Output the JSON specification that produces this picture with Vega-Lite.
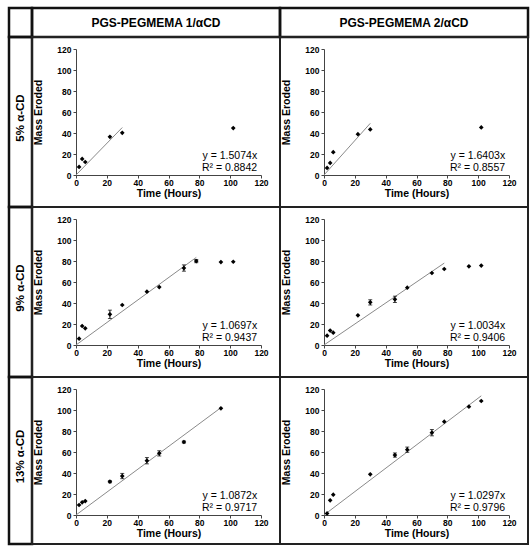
{
  "$schema": "https://vega.github.io/schema/vega-lite/v6.json",
  "padding": {"left": 7, "top": 6, "right": 0, "bottom": 0},
  "background": "white",
  "config": {
    "font": "Liberation Sans",
    "view": {"stroke": "#222", "strokeWidth": 2},
    "axis": {
      "grid": false,
      "labelFontSize": 8.5,
      "labelFontWeight": "bold",
      "labelColor": "black",
      "labelFlush": false,
      "labelOverlap": false,
      "titleFontSize": 10.5,
      "titleFontWeight": "bold",
      "titleColor": "black",
      "domainColor": "#444",
      "tickColor": "#444",
      "tickSize": 3,
      "values": [0, 20, 40, 60, 80, 100, 120]
    },
    "axisX": {"labelPadding": 0, "titlePadding": 2},
    "axisY": {"labelPadding": 2, "titlePadding": 13, "offset": -44},
    "text": {"color": "black"}
  },
  "datasets": {
    "headers": [
      {"id": "corner", "label": ""},
      {"id": "c1", "label": "PGS-PEGMEMA 1/αCD"},
      {"id": "c2", "label": "PGS-PEGMEMA 2/αCD"},
      {"id": "r5", "label": "5% α-CD"},
      {"id": "r9", "label": "9% α-CD"},
      {"id": "r13", "label": "13% α-CD"}
    ],
    "points": [
      {"panel": "5-1", "t": 2, "m": 7.7, "err": 0},
      {"panel": "5-1", "t": 4, "m": 15.3, "err": 0},
      {"panel": "5-1", "t": 6, "m": 12.4, "err": 0},
      {"panel": "5-1", "t": 22, "m": 36.4, "err": 0},
      {"panel": "5-1", "t": 30, "m": 40.2, "err": 0},
      {"panel": "5-1", "t": 102, "m": 44.7, "err": 0},
      {"panel": "5-2", "t": 2, "m": 6.7, "err": 0},
      {"panel": "5-2", "t": 4, "m": 11.5, "err": 0},
      {"panel": "5-2", "t": 6, "m": 21.7, "err": 0},
      {"panel": "5-2", "t": 22, "m": 38.9, "err": 0},
      {"panel": "5-2", "t": 30, "m": 43.4, "err": 0},
      {"panel": "5-2", "t": 102, "m": 45.3, "err": 0},
      {"panel": "9-1", "t": 2, "m": 6.0, "err": 0},
      {"panel": "9-1", "t": 4, "m": 18.1, "err": 0},
      {"panel": "9-1", "t": 6, "m": 15.9, "err": 0},
      {"panel": "9-1", "t": 22, "m": 29.2, "err": 4},
      {"panel": "9-1", "t": 30, "m": 38.1, "err": 0},
      {"panel": "9-1", "t": 46, "m": 50.8, "err": 0},
      {"panel": "9-1", "t": 54, "m": 55.2, "err": 0},
      {"panel": "9-1", "t": 70, "m": 73.3, "err": 3},
      {"panel": "9-1", "t": 78, "m": 79.9, "err": 1.5},
      {"panel": "9-1", "t": 94, "m": 79.0, "err": 0},
      {"panel": "9-1", "t": 102, "m": 79.3, "err": 0},
      {"panel": "9-2", "t": 2, "m": 8.9, "err": 0},
      {"panel": "9-2", "t": 4, "m": 13.7, "err": 0},
      {"panel": "9-2", "t": 6, "m": 11.7, "err": 0},
      {"panel": "9-2", "t": 22, "m": 28.3, "err": 0},
      {"panel": "9-2", "t": 30, "m": 40.6, "err": 2.5},
      {"panel": "9-2", "t": 46, "m": 43.5, "err": 3},
      {"panel": "9-2", "t": 54, "m": 54.6, "err": 0},
      {"panel": "9-2", "t": 70, "m": 68.6, "err": 0},
      {"panel": "9-2", "t": 78, "m": 72.4, "err": 0},
      {"panel": "9-2", "t": 94, "m": 74.9, "err": 0},
      {"panel": "9-2", "t": 102, "m": 75.6, "err": 0},
      {"panel": "13-1", "t": 2, "m": 9.5, "err": 0},
      {"panel": "13-1", "t": 4, "m": 12.1, "err": 0},
      {"panel": "13-1", "t": 6, "m": 13.3, "err": 0},
      {"panel": "13-1", "t": 22, "m": 31.7, "err": 1},
      {"panel": "13-1", "t": 30, "m": 37.1, "err": 2.5},
      {"panel": "13-1", "t": 46, "m": 51.7, "err": 3},
      {"panel": "13-1", "t": 54, "m": 58.7, "err": 2.5},
      {"panel": "13-1", "t": 70, "m": 69.5, "err": 1},
      {"panel": "13-1", "t": 94, "m": 101.6, "err": 0},
      {"panel": "13-2", "t": 2, "m": 1.5, "err": 0},
      {"panel": "13-2", "t": 4, "m": 14.0, "err": 0},
      {"panel": "13-2", "t": 6, "m": 19.4, "err": 0},
      {"panel": "13-2", "t": 30, "m": 38.7, "err": 0},
      {"panel": "13-2", "t": 46, "m": 57.1, "err": 2},
      {"panel": "13-2", "t": 54, "m": 62.2, "err": 2.5},
      {"panel": "13-2", "t": 70, "m": 78.4, "err": 3},
      {"panel": "13-2", "t": 78, "m": 88.9, "err": 0},
      {"panel": "13-2", "t": 94, "m": 103.2, "err": 0},
      {"panel": "13-2", "t": 102, "m": 108.6, "err": 0}
    ],
    "trend": [
      {"panel": "5-1", "t": 0, "m": 0},
      {"panel": "5-1", "t": 30, "m": 45.2},
      {"panel": "5-2", "t": 0, "m": 0},
      {"panel": "5-2", "t": 30, "m": 49.2},
      {"panel": "9-1", "t": 0, "m": 0},
      {"panel": "9-1", "t": 78, "m": 83.4},
      {"panel": "9-2", "t": 0, "m": 0},
      {"panel": "9-2", "t": 78, "m": 78.0},
      {"panel": "13-1", "t": 0, "m": 0},
      {"panel": "13-1", "t": 94, "m": 102.2},
      {"panel": "13-2", "t": 0, "m": 0},
      {"panel": "13-2", "t": 102, "m": 113.5}
    ],
    "notes": [
      {"panel": "5-1", "eq": "y = 1.5074x", "r2": "R² = 0.8842"},
      {"panel": "5-2", "eq": "y = 1.6403x", "r2": "R² = 0.8557"},
      {"panel": "9-1", "eq": "y = 1.0697x", "r2": "R² = 0.9437"},
      {"panel": "9-2", "eq": "y = 1.0034x", "r2": "R² = 0.9406"},
      {"panel": "13-1", "eq": "y = 1.0872x", "r2": "R² = 0.9717"},
      {"panel": "13-2", "eq": "y = 1.0297x", "r2": "R² = 0.9796"}
    ]
  },
  "columns": 3,
  "spacing": 0,
  "align": "each",
  "bounds": "flush",
  "concat": [
    {
      "width": 23, "height": 29,
      "view": {"stroke": "#111", "strokeWidth": 2.5},
      "data": {"name": "headers"},
      "transform": [{"filter": "datum.id == 'corner'"}],
      "mark": {"type": "text"},
      "encoding": {"text": {"field": "label"}}
    },
    {
      "width": 248, "height": 29,
      "view": {"stroke": "#111", "strokeWidth": 2.5},
      "data": {"name": "headers"},
      "transform": [{"filter": "datum.id == 'c1'"}],
      "mark": {"type": "text", "fontSize": 12, "fontWeight": "bold"},
      "encoding": {"text": {"field": "label"}}
    },
    {
      "width": 248, "height": 29,
      "view": {"stroke": "#111", "strokeWidth": 2.5},
      "data": {"name": "headers"},
      "transform": [{"filter": "datum.id == 'c2'"}],
      "mark": {"type": "text", "fontSize": 12, "fontWeight": "bold"},
      "encoding": {"text": {"field": "label"}}
    },
    {
      "width": 23, "height": 170,
      "view": {"stroke": "#111", "strokeWidth": 2.5},
      "data": {"name": "headers"},
      "transform": [{"filter": "datum.id == 'r5'"}],
      "mark": {"type": "text", "fontSize": 11.5, "fontWeight": "bold", "angle": 270, "dx": 4},
      "encoding": {"text": {"field": "label"}}
    },
    {
      "width": 248, "height": 170,
      "layer": [
        {"data": {"name": "trend"}, "transform": [{"filter": "datum.panel == '5-1'"}], "mark": {"type": "line", "color": "#8a8a8a", "strokeWidth": 1},
         "encoding": {
          "x": {"field": "t", "type": "quantitative", "title": "Time (Hours)", "scale": {"domain": [0, 120], "range": [44, 229], "nice": false}, "axis": {"offset": -32}},
          "y": {"field": "m", "type": "quantitative", "title": "Mass Eroded", "scale": {"domain": [0, 120], "range": [138, 12], "nice": false}}}},
        {"data": {"name": "points"}, "transform": [{"filter": "datum.panel == '5-1' && datum.err > 0"}], "mark": {"type": "errorbar", "color": "black", "thickness": 1, "ticks": {"size": 4}},
         "encoding": {"x": {"field": "t", "type": "quantitative", "title": "Time (Hours)", "axis": {"offset": -32}}, "y": {"field": "m", "type": "quantitative", "title": "Mass Eroded"}, "yError": {"field": "err"}}},
        {"data": {"name": "points"}, "transform": [{"filter": "datum.panel == '5-1'"}], "mark": {"type": "point", "shape": "diamond", "filled": true, "color": "black", "size": 22, "opacity": 1},
         "encoding": {"x": {"field": "t", "type": "quantitative", "title": "Time (Hours)", "axis": {"offset": -32}}, "y": {"field": "m", "type": "quantitative", "title": "Mass Eroded"}}},
        {"data": {"name": "notes"}, "transform": [{"filter": "datum.panel == '5-1'"}], "mark": {"type": "text", "align": "right", "baseline": "middle", "fontSize": 10.5},
         "encoding": {"x": {"datum": 117.5, "type": "quantitative", "title": "Time (Hours)", "axis": {"offset": -32}}, "y": {"datum": 18, "type": "quantitative", "title": "Mass Eroded"}, "text": {"field": "eq", "type": "nominal"}}},
        {"data": {"name": "notes"}, "transform": [{"filter": "datum.panel == '5-1'"}], "mark": {"type": "text", "align": "right", "baseline": "middle", "fontSize": 10.5},
         "encoding": {"x": {"datum": 117.5, "type": "quantitative", "title": "Time (Hours)", "axis": {"offset": -32}}, "y": {"datum": 6.5, "type": "quantitative", "title": "Mass Eroded"}, "text": {"field": "r2", "type": "nominal"}}}
      ]
    },
    {
      "width": 248, "height": 170,
      "layer": [
        {"data": {"name": "trend"}, "transform": [{"filter": "datum.panel == '5-2'"}], "mark": {"type": "line", "color": "#8a8a8a", "strokeWidth": 1},
         "encoding": {
          "x": {"field": "t", "type": "quantitative", "title": "Time (Hours)", "scale": {"domain": [0, 120], "range": [44, 229], "nice": false}, "axis": {"offset": -32}},
          "y": {"field": "m", "type": "quantitative", "title": "Mass Eroded", "scale": {"domain": [0, 120], "range": [138, 12], "nice": false}}}},
        {"data": {"name": "points"}, "transform": [{"filter": "datum.panel == '5-2' && datum.err > 0"}], "mark": {"type": "errorbar", "color": "black", "thickness": 1, "ticks": {"size": 4}},
         "encoding": {"x": {"field": "t", "type": "quantitative", "title": "Time (Hours)", "axis": {"offset": -32}}, "y": {"field": "m", "type": "quantitative", "title": "Mass Eroded"}, "yError": {"field": "err"}}},
        {"data": {"name": "points"}, "transform": [{"filter": "datum.panel == '5-2'"}], "mark": {"type": "point", "shape": "diamond", "filled": true, "color": "black", "size": 22, "opacity": 1},
         "encoding": {"x": {"field": "t", "type": "quantitative", "title": "Time (Hours)", "axis": {"offset": -32}}, "y": {"field": "m", "type": "quantitative", "title": "Mass Eroded"}}},
        {"data": {"name": "notes"}, "transform": [{"filter": "datum.panel == '5-2'"}], "mark": {"type": "text", "align": "right", "baseline": "middle", "fontSize": 10.5},
         "encoding": {"x": {"datum": 117.5, "type": "quantitative", "title": "Time (Hours)", "axis": {"offset": -32}}, "y": {"datum": 18, "type": "quantitative", "title": "Mass Eroded"}, "text": {"field": "eq", "type": "nominal"}}},
        {"data": {"name": "notes"}, "transform": [{"filter": "datum.panel == '5-2'"}], "mark": {"type": "text", "align": "right", "baseline": "middle", "fontSize": 10.5},
         "encoding": {"x": {"datum": 117.5, "type": "quantitative", "title": "Time (Hours)", "axis": {"offset": -32}}, "y": {"datum": 6.5, "type": "quantitative", "title": "Mass Eroded"}, "text": {"field": "r2", "type": "nominal"}}}
      ]
    },
    {
      "width": 23, "height": 170,
      "view": {"stroke": "#111", "strokeWidth": 2.5},
      "data": {"name": "headers"},
      "transform": [{"filter": "datum.id == 'r9'"}],
      "mark": {"type": "text", "fontSize": 11.5, "fontWeight": "bold", "angle": 270, "dx": 4},
      "encoding": {"text": {"field": "label"}}
    },
    {
      "width": 248, "height": 170,
      "layer": [
        {"data": {"name": "trend"}, "transform": [{"filter": "datum.panel == '9-1'"}], "mark": {"type": "line", "color": "#8a8a8a", "strokeWidth": 1},
         "encoding": {
          "x": {"field": "t", "type": "quantitative", "title": "Time (Hours)", "scale": {"domain": [0, 120], "range": [44, 229], "nice": false}, "axis": {"offset": -32}},
          "y": {"field": "m", "type": "quantitative", "title": "Mass Eroded", "scale": {"domain": [0, 120], "range": [138, 12], "nice": false}}}},
        {"data": {"name": "points"}, "transform": [{"filter": "datum.panel == '9-1' && datum.err > 0"}], "mark": {"type": "errorbar", "color": "black", "thickness": 1, "ticks": {"size": 4}},
         "encoding": {"x": {"field": "t", "type": "quantitative", "title": "Time (Hours)", "axis": {"offset": -32}}, "y": {"field": "m", "type": "quantitative", "title": "Mass Eroded"}, "yError": {"field": "err"}}},
        {"data": {"name": "points"}, "transform": [{"filter": "datum.panel == '9-1'"}], "mark": {"type": "point", "shape": "diamond", "filled": true, "color": "black", "size": 22, "opacity": 1},
         "encoding": {"x": {"field": "t", "type": "quantitative", "title": "Time (Hours)", "axis": {"offset": -32}}, "y": {"field": "m", "type": "quantitative", "title": "Mass Eroded"}}},
        {"data": {"name": "notes"}, "transform": [{"filter": "datum.panel == '9-1'"}], "mark": {"type": "text", "align": "right", "baseline": "middle", "fontSize": 10.5},
         "encoding": {"x": {"datum": 117.5, "type": "quantitative", "title": "Time (Hours)", "axis": {"offset": -32}}, "y": {"datum": 18, "type": "quantitative", "title": "Mass Eroded"}, "text": {"field": "eq", "type": "nominal"}}},
        {"data": {"name": "notes"}, "transform": [{"filter": "datum.panel == '9-1'"}], "mark": {"type": "text", "align": "right", "baseline": "middle", "fontSize": 10.5},
         "encoding": {"x": {"datum": 117.5, "type": "quantitative", "title": "Time (Hours)", "axis": {"offset": -32}}, "y": {"datum": 6.5, "type": "quantitative", "title": "Mass Eroded"}, "text": {"field": "r2", "type": "nominal"}}}
      ]
    },
    {
      "width": 248, "height": 170,
      "layer": [
        {"data": {"name": "trend"}, "transform": [{"filter": "datum.panel == '9-2'"}], "mark": {"type": "line", "color": "#8a8a8a", "strokeWidth": 1},
         "encoding": {
          "x": {"field": "t", "type": "quantitative", "title": "Time (Hours)", "scale": {"domain": [0, 120], "range": [44, 229], "nice": false}, "axis": {"offset": -32}},
          "y": {"field": "m", "type": "quantitative", "title": "Mass Eroded", "scale": {"domain": [0, 120], "range": [138, 12], "nice": false}}}},
        {"data": {"name": "points"}, "transform": [{"filter": "datum.panel == '9-2' && datum.err > 0"}], "mark": {"type": "errorbar", "color": "black", "thickness": 1, "ticks": {"size": 4}},
         "encoding": {"x": {"field": "t", "type": "quantitative", "title": "Time (Hours)", "axis": {"offset": -32}}, "y": {"field": "m", "type": "quantitative", "title": "Mass Eroded"}, "yError": {"field": "err"}}},
        {"data": {"name": "points"}, "transform": [{"filter": "datum.panel == '9-2'"}], "mark": {"type": "point", "shape": "diamond", "filled": true, "color": "black", "size": 22, "opacity": 1},
         "encoding": {"x": {"field": "t", "type": "quantitative", "title": "Time (Hours)", "axis": {"offset": -32}}, "y": {"field": "m", "type": "quantitative", "title": "Mass Eroded"}}},
        {"data": {"name": "notes"}, "transform": [{"filter": "datum.panel == '9-2'"}], "mark": {"type": "text", "align": "right", "baseline": "middle", "fontSize": 10.5},
         "encoding": {"x": {"datum": 117.5, "type": "quantitative", "title": "Time (Hours)", "axis": {"offset": -32}}, "y": {"datum": 18, "type": "quantitative", "title": "Mass Eroded"}, "text": {"field": "eq", "type": "nominal"}}},
        {"data": {"name": "notes"}, "transform": [{"filter": "datum.panel == '9-2'"}], "mark": {"type": "text", "align": "right", "baseline": "middle", "fontSize": 10.5},
         "encoding": {"x": {"datum": 117.5, "type": "quantitative", "title": "Time (Hours)", "axis": {"offset": -32}}, "y": {"datum": 6.5, "type": "quantitative", "title": "Mass Eroded"}, "text": {"field": "r2", "type": "nominal"}}}
      ]
    },
    {
      "width": 23, "height": 167,
      "view": {"stroke": "#111", "strokeWidth": 2.5},
      "data": {"name": "headers"},
      "transform": [{"filter": "datum.id == 'r13'"}],
      "mark": {"type": "text", "fontSize": 11.5, "fontWeight": "bold", "angle": 270, "dx": 4},
      "encoding": {"text": {"field": "label"}}
    },
    {
      "width": 248, "height": 167,
      "layer": [
        {"data": {"name": "trend"}, "transform": [{"filter": "datum.panel == '13-1'"}], "mark": {"type": "line", "color": "#8a8a8a", "strokeWidth": 1},
         "encoding": {
          "x": {"field": "t", "type": "quantitative", "title": "Time (Hours)", "scale": {"domain": [0, 120], "range": [44, 229], "nice": false}, "axis": {"offset": -29}},
          "y": {"field": "m", "type": "quantitative", "title": "Mass Eroded", "scale": {"domain": [0, 120], "range": [138, 12], "nice": false}}}},
        {"data": {"name": "points"}, "transform": [{"filter": "datum.panel == '13-1' && datum.err > 0"}], "mark": {"type": "errorbar", "color": "black", "thickness": 1, "ticks": {"size": 4}},
         "encoding": {"x": {"field": "t", "type": "quantitative", "title": "Time (Hours)", "axis": {"offset": -29}}, "y": {"field": "m", "type": "quantitative", "title": "Mass Eroded"}, "yError": {"field": "err"}}},
        {"data": {"name": "points"}, "transform": [{"filter": "datum.panel == '13-1'"}], "mark": {"type": "point", "shape": "diamond", "filled": true, "color": "black", "size": 22, "opacity": 1},
         "encoding": {"x": {"field": "t", "type": "quantitative", "title": "Time (Hours)", "axis": {"offset": -29}}, "y": {"field": "m", "type": "quantitative", "title": "Mass Eroded"}}},
        {"data": {"name": "notes"}, "transform": [{"filter": "datum.panel == '13-1'"}], "mark": {"type": "text", "align": "right", "baseline": "middle", "fontSize": 10.5},
         "encoding": {"x": {"datum": 117.5, "type": "quantitative", "title": "Time (Hours)", "axis": {"offset": -29}}, "y": {"datum": 18, "type": "quantitative", "title": "Mass Eroded"}, "text": {"field": "eq", "type": "nominal"}}},
        {"data": {"name": "notes"}, "transform": [{"filter": "datum.panel == '13-1'"}], "mark": {"type": "text", "align": "right", "baseline": "middle", "fontSize": 10.5},
         "encoding": {"x": {"datum": 117.5, "type": "quantitative", "title": "Time (Hours)", "axis": {"offset": -29}}, "y": {"datum": 6.5, "type": "quantitative", "title": "Mass Eroded"}, "text": {"field": "r2", "type": "nominal"}}}
      ]
    },
    {
      "width": 248, "height": 167,
      "layer": [
        {"data": {"name": "trend"}, "transform": [{"filter": "datum.panel == '13-2'"}], "mark": {"type": "line", "color": "#8a8a8a", "strokeWidth": 1},
         "encoding": {
          "x": {"field": "t", "type": "quantitative", "title": "Time (Hours)", "scale": {"domain": [0, 120], "range": [44, 229], "nice": false}, "axis": {"offset": -29}},
          "y": {"field": "m", "type": "quantitative", "title": "Mass Eroded", "scale": {"domain": [0, 120], "range": [138, 12], "nice": false}}}},
        {"data": {"name": "points"}, "transform": [{"filter": "datum.panel == '13-2' && datum.err > 0"}], "mark": {"type": "errorbar", "color": "black", "thickness": 1, "ticks": {"size": 4}},
         "encoding": {"x": {"field": "t", "type": "quantitative", "title": "Time (Hours)", "axis": {"offset": -29}}, "y": {"field": "m", "type": "quantitative", "title": "Mass Eroded"}, "yError": {"field": "err"}}},
        {"data": {"name": "points"}, "transform": [{"filter": "datum.panel == '13-2'"}], "mark": {"type": "point", "shape": "diamond", "filled": true, "color": "black", "size": 22, "opacity": 1},
         "encoding": {"x": {"field": "t", "type": "quantitative", "title": "Time (Hours)", "axis": {"offset": -29}}, "y": {"field": "m", "type": "quantitative", "title": "Mass Eroded"}}},
        {"data": {"name": "notes"}, "transform": [{"filter": "datum.panel == '13-2'"}], "mark": {"type": "text", "align": "right", "baseline": "middle", "fontSize": 10.5},
         "encoding": {"x": {"datum": 117.5, "type": "quantitative", "title": "Time (Hours)", "axis": {"offset": -29}}, "y": {"datum": 18, "type": "quantitative", "title": "Mass Eroded"}, "text": {"field": "eq", "type": "nominal"}}},
        {"data": {"name": "notes"}, "transform": [{"filter": "datum.panel == '13-2'"}], "mark": {"type": "text", "align": "right", "baseline": "middle", "fontSize": 10.5},
         "encoding": {"x": {"datum": 117.5, "type": "quantitative", "title": "Time (Hours)", "axis": {"offset": -29}}, "y": {"datum": 6.5, "type": "quantitative", "title": "Mass Eroded"}, "text": {"field": "r2", "type": "nominal"}}}
      ]
    }
  ]
}
